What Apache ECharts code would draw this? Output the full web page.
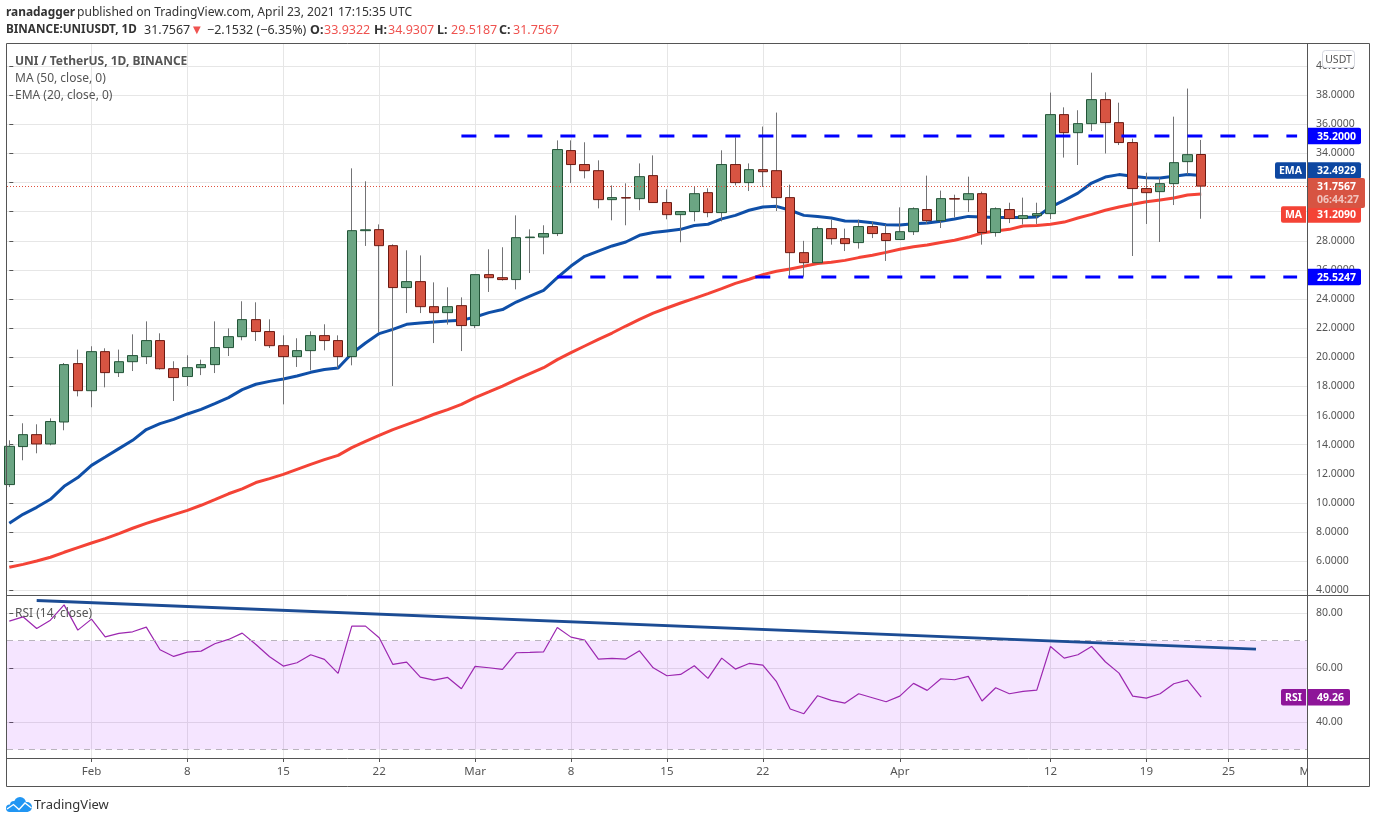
<!DOCTYPE html>
<html><head><meta charset="utf-8">
<style>html,body{margin:0;padding:0;background:#fff}#c{width:1376px;height:823px}</style>
<script src="https://cdn.jsdelivr.net/npm/echarts@6/dist/echarts.min.js"></script>
</head><body><div id="c"></div>
<script>
const opens=[11.26,13.87,14.69,14.05,15.56,19.57,17.71,20.39,18.95,19.70,20.05,21.15,19.22,18.68,19.29,19.50,20.67,21.42,22.59,21.77,20.80,20.05,20.46,21.49,21.15,
20.05,28.70,28.77,27.67,24.79,25.20,23.48,23.07,23.55,22.18,25.68,25.47,25.34,28.22,28.26,28.50,34.20,33.24,32.82,30.83,30.97,30.90,32.48,30.63,29.80,
30.01,31.31,29.94,33.24,32.00,32.89,32.82,30.97,27.19,26.50,28.84,28.15,27.88,28.98,28.50,28.09,28.63,30.15,29.39,30.90,30.83,31.24,28.57,30.15,29.53,29.73,
29.87,36.67,35.43,36.05,37.70,36.12,34.75,31.59,31.38,31.93,33.44,33.93];
const closes=[13.89,14.69,14.05,15.59,19.50,17.71,20.39,18.95,19.70,20.12,21.15,19.22,18.61,19.29,19.50,20.67,21.42,22.59,21.77,20.80,20.05,20.46,21.49,21.15,20.05,
28.70,28.76,27.67,24.79,25.20,23.48,23.07,23.48,22.18,25.68,25.47,25.34,28.22,28.26,28.50,34.27,33.24,32.82,30.83,30.97,30.94,32.41,30.63,29.80,30.01,
31.24,29.94,33.24,32.00,32.89,32.75,30.97,27.19,26.50,28.84,28.15,27.81,28.98,28.50,28.02,28.63,30.21,29.39,30.90,30.87,31.24,28.57,30.21,29.53,29.73,29.87,
36.67,35.43,36.05,37.70,36.12,34.75,31.59,31.31,31.93,33.37,33.92,31.76];
const lows=[11.09,12.93,13.41,13.96,14.99,17.32,16.57,17.94,18.65,19.06,19.54,19.16,17.00,18.03,18.78,18.92,20.09,21.17,21.12,20.64,16.77,19.34,19.11,20.48,19.25,
19.45,27.65,21.72,18.03,23.04,23.04,20.98,22.25,20.43,22.01,24.49,25.27,24.67,25.79,27.08,28.33,31.97,32.29,30.23,29.41,29.07,30.10,30.63,29.48,27.90,
29.34,29.62,29.34,31.81,31.42,31.70,30.05,25.61,25.54,26.50,27.74,27.30,27.47,28.19,26.62,28.09,28.40,29.18,28.88,29.60,29.98,27.74,28.29,29.22,29.12,29.16,
29.50,33.72,33.21,35.54,34.00,34.58,26.96,29.16,27.92,30.46,32.55,29.52];
const highs=[14.30,15.47,15.40,15.81,19.61,20.53,20.76,20.62,20.53,21.58,22.47,21.65,19.73,20.14,19.84,22.47,21.99,23.85,23.78,22.61,21.51,21.31,21.79,22.27,21.51,
32.98,32.09,29.13,27.76,27.35,27.00,25.15,24.81,24.12,25.68,27.42,27.56,29.75,28.79,29.07,34.90,34.90,34.77,33.53,31.81,31.95,33.32,33.87,31.54,30.01,
31.74,31.61,34.22,35.11,33.32,35.85,36.81,31.86,28.00,28.98,29.46,28.84,29.46,29.32,29.12,30.30,30.30,32.48,31.45,31.17,32.41,31.38,30.30,30.62,30.97,30.62,
38.18,37.17,36.97,39.55,38.20,37.49,35.02,32.68,32.34,36.53,38.46,34.93];
const ema20=[8.60,9.22,9.70,10.25,11.14,11.74,12.58,13.15,13.73,14.30,15.04,15.45,15.74,16.11,16.43,16.82,17.23,17.78,18.15,18.35,18.51,18.72,18.97,19.16,19.27,
20.26,20.98,21.63,21.92,22.27,22.36,22.43,22.49,22.54,22.77,23.07,23.28,23.80,24.21,24.60,25.47,26.27,26.94,27.30,27.65,27.92,28.38,28.57,28.68,28.79,
29.05,29.14,29.51,29.75,30.10,30.32,30.37,30.10,29.75,29.68,29.57,29.36,29.34,29.25,29.11,29.09,29.18,29.22,29.34,29.50,29.68,29.64,29.60,29.60,29.60,29.64,
30.32,30.78,31.28,31.97,32.38,32.55,32.43,32.34,32.31,32.43,32.55,32.49];
const ma50=[5.58,5.78,6.01,6.27,6.61,6.93,7.25,7.55,7.89,8.26,8.60,8.90,9.20,9.49,9.84,10.23,10.63,10.97,11.40,11.67,11.96,12.31,12.65,12.97,13.27,
13.80,14.23,14.64,15.04,15.38,15.72,16.09,16.41,16.77,17.23,17.62,18.03,18.47,18.88,19.29,19.84,20.32,20.78,21.24,21.67,22.15,22.61,23.04,23.39,23.73,
24.05,24.38,24.72,25.08,25.36,25.68,25.91,26.07,26.25,26.44,26.53,26.66,26.85,27.01,27.21,27.42,27.60,27.71,27.88,28.04,28.26,28.54,28.68,28.79,29.02,29.05,
29.14,29.29,29.57,29.82,30.10,30.32,30.51,30.69,30.80,30.94,31.15,31.21];
const rsi14=[77.19,78.78,74.49,77.55,83.18,73.88,77.92,71.43,72.66,73.27,74.98,66.66,64.21,65.80,66.17,68.86,70.46,72.78,68.62,64.09,60.66,61.88,64.82,63.11,57.96,
75.35,75.35,71.07,61.27,62.13,56.62,55.52,56.50,52.34,60.54,60.05,59.44,65.56,65.68,65.92,74.86,71.31,70.21,63.23,63.48,63.23,66.29,60.05,57.11,57.60,
60.78,56.13,63.60,59.56,61.64,61.03,54.91,44.87,43.16,49.77,48.05,47.07,50.50,49.03,47.56,49.64,54.30,51.73,56.00,55.64,56.87,47.81,52.70,50.50,51.36,51.85,
67.88,63.60,64.82,67.88,62.25,58.09,49.64,48.91,50.50,54.17,55.52,49.26];
const priceTicks=[4,6,8,10,12,14,16,18,20,22,24,26,28,30,32,34,36,38,40];
const rsiTicks=[40,60,80];
const dateTickIndex=[6,13,20,27,34,41,48,55,65,76,83,89];
const dateTickLabels=['Feb','8','15','22','Mar','8','15','22','Apr','12','19','25'];
const resistance=35.2, support=25.5247, lastClose=31.7567;
const resistanceSpan=[33,94], supportSpan=[40,94];
const trendIndex=[2,91], trendValue=[84.77,66.9];

const FONT='"Noto Sans",sans-serif', AX='#555', GRID='#e6e6e6';
const XMIN=-0.168, XMAX=94.723;
const labelMap={}; dateTickIndex.forEach((v,k)=>labelMap[v]=dateTickLabels[k]);
const wickData=opens.map((o,i)=>[i,o,closes[i],lows[i],highs[i]]);
const bodyData=opens.map((o,i)=>[i,o,closes[i],Math.min(o,closes[i]),Math.max(o,closes[i])]);
const idx=a=>a.map((v,i)=>[i,v]);
const thickLine=(name,data,color,xi,z,extra)=>Object.assign({type:'line',name,data,xAxisIndex:xi,yAxisIndex:xi,showSymbol:false,symbol:'none',smooth:false,silent:true,z,
  lineStyle:{color,width:3,cap:'butt'}},extra||{});
const xAx=(gi,labels)=>({type:'value',gridIndex:gi,min:XMIN,max:XMAX,
  axisLine:{show:false},
  axisTick:{show:labels,length:4,lineStyle:{color:AX},customValues:dateTickIndex},
  splitLine:{show:true,lineStyle:{color:GRID,width:1}},
  axisLabel:{show:labels,customValues:dateTickIndex,margin:8,color:AX,fontFamily:FONT,fontSize:11.5,hideOverlap:false,formatter:v=>labelMap[v]||''}});
const chart=echarts.init(document.getElementById('c'),null,{renderer:'canvas'});
chart.setOption({animation:false,backgroundColor:'#fff',
  grid:[{left:7,width:1300,top:44,height:551},{left:7,width:1300,top:596,height:162}],
  xAxis:[xAx(0,false),xAx(1,true)],
  yAxis:[
   {type:'value',gridIndex:0,position:'right',min:3.677,max:41.52,axisLine:{show:false},
    axisTick:{show:true,length:4,lineStyle:{color:AX},customValues:priceTicks},
    splitLine:{show:true,lineStyle:{color:GRID,width:1}},
    axisLabel:{customValues:priceTicks,margin:9,color:AX,fontFamily:FONT,fontSize:10.5,padding:[2,0,0,0],formatter:v=>v.toFixed(4)}},
   {type:'value',gridIndex:1,position:'right',min:26.875,max:86.43,axisLine:{show:false},
    axisTick:{show:true,length:4,lineStyle:{color:AX},customValues:rsiTicks},
    splitLine:{show:true,lineStyle:{color:GRID,width:1}},
    axisLabel:{customValues:rsiTicks,margin:9,color:AX,fontFamily:FONT,fontSize:10.5,padding:[2,0,0,0],formatter:v=>v.toFixed(2)}}
  ],
  series:[
   thickLine('MA 50',idx(ma50),'#f44336',0,2),
   thickLine('EMA 20',idx(ema20),'#0f4fa8',0,2),
   {type:'candlestick',name:'wicks',xAxisIndex:0,yAxisIndex:0,barWidth:1,silent:true,z:3,encode:{x:0,y:[1,2,3,4]},data:wickData,
    itemStyle:{color:'#737375',color0:'#737375',borderColor:'#737375',borderColor0:'#737375',borderColorDoji:'#737375',borderWidth:1}},
   {type:'candlestick',name:'UNI/USDT',xAxisIndex:0,yAxisIndex:0,barWidth:10,silent:true,z:4,encode:{x:0,y:[1,2,3,4]},data:bodyData,
    itemStyle:{color:'#6ba583',color0:'#d75442',borderColor:'#225437',borderColor0:'#6b1a12',borderWidth:1},
    markLine:{silent:true,symbol:'none',label:{show:false},animation:false,data:[{yAxis:lastClose}],lineStyle:{color:'#e0513f',type:[1,2],width:1}}},
   {type:'line',name:'Resistance',xAxisIndex:0,yAxisIndex:0,data:resistanceSpan.map(x=>[x,resistance]),showSymbol:false,symbol:'none',silent:true,z:5,lineStyle:{color:'#0000ff',width:3,type:[15,18],cap:'butt'}},
   {type:'line',name:'Support',xAxisIndex:0,yAxisIndex:0,data:supportSpan.map(x=>[x,support]),showSymbol:false,symbol:'none',silent:true,z:5,lineStyle:{color:'#0000ff',width:3,type:[15,18],cap:'butt'}},
   {type:'line',name:'RSI',xAxisIndex:1,yAxisIndex:1,data:idx(rsi14),showSymbol:false,symbol:'none',silent:true,z:4,lineStyle:{color:'#9c27b0',width:1.2},
    markArea:{silent:true,data:[[{yAxis:70},{yAxis:30}]],itemStyle:{color:'rgba(153,0,255,0.1)'},label:{show:false}},
    markLine:{silent:true,symbol:'none',label:{show:false},data:[{yAxis:70},{yAxis:30}],lineStyle:{color:'#b9b4bd',type:[6,5],width:1}}},
   thickLine('RSI trendline',trendIndex.map((x,k)=>[x,trendValue[k]]),'#1c4c94',1,5)
  ]});

const yP=v=>chart.convertToPixel({yAxisIndex:0},v);
const T=(text,x,y,st)=>{const s=Object.assign({text,x,y,fontFamily:FONT,fontSize:12.5,fill:'#333',textVerticalAlign:'middle',textBaseline:'middle'},st||{});const z=s.z||30;delete s.z;return {type:'text',z,style:s};};
const R=(x,y,w,h,fill,r,z,extra)=>({type:'rect',z:z||20,shape:{x,y,width:w,height:h,r:r||0},style:Object.assign({fill},extra||{})});
const L=(x1,y1,x2,y2,c)=>({type:'line',z:40,shape:{x1,y1,x2,y2},style:{stroke:c||'#555',lineWidth:1}});
const C=(cx,cy,r)=>({type:'circle',z:30,shape:{cx:6+cx,cy:797+cy,r},style:{fill:'#2196f3'}});
const tag=(x,w,cy,h,fill,txt,tx)=>[R(x,cy-h/2,w,h,fill,[0,2,2,0],20),T(txt,tx,cy+1,{fontSize:10.5,fontWeight:'bold',fill:'#fff',z:21})];
const els=[];
els.push(T('May',1310.8,772,{textAlign:'center',fontSize:11.5,fill:AX,z:30}));
els.push(R(1308,759,61,27,'#fff',0,35));
// header
els.push(T('ranadagger',6,13,{fontWeight:'bold',fontSize:11.9}));
els.push(T('published on TradingView.com, April 23, 2021 17:15:35 UTC',77,13,{fontSize:12.1}));
els.push(T('BINANCE:UNIUSDT, 1D',6,30,{fontWeight:'bold',fontSize:11.7}));
els.push(T('31.7567',144,30));
els.push(T('▼',193,30,{fill:'#ef5350',fontSize:10,fontFamily:'"DejaVu Sans"'}));
els.push(T('−2.1532 (−6.35%)',207,30));
[['O:','33.9322',310],['H:','34.9307',374],['L:','29.5187',437],['C:','31.7567',499]].forEach(a=>{
  els.push(T(a[0],a[2],30,{fontWeight:'bold'}));
  els.push(T(a[1],a[2]+14,30,{fill:'#ef5350'}));
});
// legends
els.push(T('UNI / TetherUS, 1D, BINANCE',15,62,{fill:'#555',fontWeight:'bold',fontSize:12}));
els.push(T('MA (50, close, 0)',15,79,{fill:'#555',fontSize:12}));
els.push(T('EMA (20, close, 0)',15,96,{fill:'#555',fontSize:12}));
els.push(T('RSI (14, close)',15,614,{fill:'#555',fontSize:12}));
// USDT button
els.push(R(1322.5,50.5,32,17,'#fff',3,25,{stroke:'#d6d8e0',lineWidth:1}));
els.push(T('USDT',1338.5,60,{textAlign:'center',fontSize:10.5,fill:AX,z:26}));
// price tags
const tx=1317;
els.push(...tag(1307,54,yP(resistance),16.5,'#0000ff','35.2000',tx));
els.push(...tag(1307,54,yP(support),16.5,'#0000ff','25.5247',tx));
els.push(...tag(1307,54,170.5,16.5,'#0d47a1','32.4929',tx));
els.push(R(1275,162.3,31,16.5,'#0d47a1',[2,0,0,2],20));
els.push(T('EMA',1290.5,171.5,{textAlign:'center',fontSize:10.5,fontWeight:'bold',fill:'#fff',z:21}));
els.push(...tag(1307,54,214.5,16.5,'#f44336','31.2090',tx));
els.push(R(1281,206.2,25,16.5,'#f44336',[2,0,0,2],20));
els.push(T('MA',1293.5,215.5,{textAlign:'center',fontSize:10.5,fontWeight:'bold',fill:'#fff',z:21}));
els.push(R(1307,178,58,30,'#d75442',[0,2,2,0],20));
els.push(T('31.7567',tx,187.5,{fontSize:10.5,fontWeight:'bold',fill:'#fff',z:21}));
els.push(T('06:44:27',tx,200.5,{fontSize:10.5,fontWeight:'bold',fill:'rgba(255,255,255,0.65)',z:21}));
// rsi tag
els.push(...tag(1307,43,697.3,16.5,'#8e1599','49.26',tx));
els.push(R(1281,689,25,16.5,'#8e1599',[2,0,0,2],20));
els.push(T('RSI',1293.5,698.3,{textAlign:'center',fontSize:10.5,fontWeight:'bold',fill:'#fff',z:21}));
// frame
els.push(R(6.5,43.5,1363,743,'none',0,40,{stroke:'#555',lineWidth:1}));
els.push(L(6.5,595.5,1369.5,595.5),L(6.5,758.5,1369.5,758.5),L(1307.5,43.5,1307.5,786.5));
// logo
els.push(C(14,6,6),C(21,10,5),C(8,8,4),C(3.7,11.3,3.7));
els.push({type:'rect',z:30,shape:{x:15.7,y:807,width:12,height:5},style:{fill:'#2196f3'}});
els.push({type:'rect',z:30,shape:{x:9.7,y:808,width:8,height:4},style:{fill:'#2196f3'}});
els.push({type:'polyline',z:31,shape:{points:[[7,809],[13.5,804.5],[19,809.5],[25,803],[31.5,808]]},style:{stroke:'#fff',lineWidth:1.3,fill:'none'}});
els.push(T('TradingView',34,805.5,{fontSize:13,fill:'#333'}));
chart.setOption({graphic:{elements:els}});
</script></body></html>
